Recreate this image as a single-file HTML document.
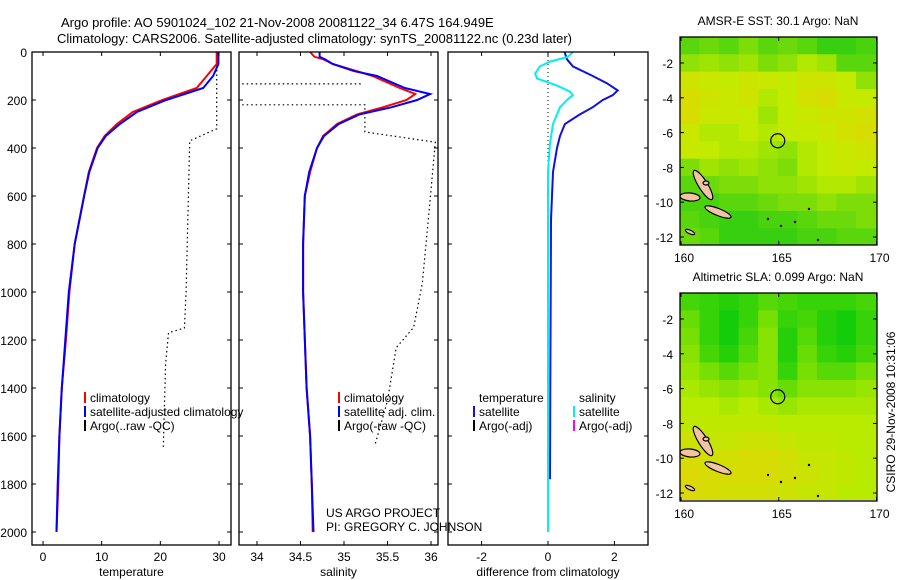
<!DOCTYPE html>
<html><head><meta charset="utf-8">
<style>
html,body{margin:0;padding:0;background:#fff;}
svg{display:block;font-family:"Liberation Sans",sans-serif;}
text{fill:#000;}
</style></head>
<body>
<svg id="fig" width="900" height="580" viewBox="0 0 900 580" xmlns="http://www.w3.org/2000/svg">
<defs>
<clipPath id="c1"><rect x="32" y="52" width="199" height="493"/></clipPath>
<clipPath id="c2"><rect x="239" y="52" width="199" height="493"/></clipPath>
<clipPath id="c3"><rect x="448" y="52" width="200" height="493"/></clipPath>
<clipPath id="cm1"><rect x="680" y="37" width="197" height="208"/></clipPath>
<clipPath id="cm2"><rect x="680" y="293" width="197" height="207"/></clipPath>
</defs>
<text x="61" y="27" font-size="13">Argo profile: AO 5901024_102 21-Nov-2008 20081122_34 6.47S 164.949E</text>
<text x="57" y="43" font-size="13">Climatology: CARS2006. Satellite-adjusted climatology: synTS_20081122.nc (0.23d later)</text>
<text x="778" y="25" font-size="12" text-anchor="middle">AMSR-E SST: 30.1 Argo: NaN</text>
<text x="778" y="281" font-size="12" text-anchor="middle">Altimetric SLA: 0.099 Argo: NaN</text>
<text transform="translate(895,412) rotate(-90)" font-size="12" text-anchor="middle">CSIRO 29-Nov-2008 10:31:06</text>
<text x="326" y="517" font-size="12">US ARGO PROJECT</text>
<text x="326" y="531" font-size="12">PI: GREGORY C. JOHNSON</text>
<g id="g1" clip-path="url(#c1)"></g>
<g id="g2" clip-path="url(#c2)"></g>
<g id="g3" clip-path="url(#c3)"></g>
<g id="gm1" clip-path="url(#cm1)"></g>
<g id="gm2" clip-path="url(#cm2)"></g>
<g id="axes"></g>
</svg>
<script>
// ---- profile data (depth in dbar) ----
const tDepth = [0,50,100,150,200,250,300,350,400,500,600,800,1000,1200,1400,1600,1800,2000];
const tClim  = [29.6,29.6,27.9,26.2,20.3,15.3,12.6,10.5,9.2,7.8,7.0,5.4,4.5,3.9,3.2,2.8,2.6,2.3];
const tSat   = [29.9,29.9,29.0,27.3,21.0,16.0,13.1,10.7,9.3,7.9,7.0,5.4,4.4,3.8,3.2,2.8,2.5,2.3];
const tArgoDepth = [0,320,370,1000,1150,1170,1300,1650];
const tArgo      = [29.6,29.6,25.0,24.4,24.1,21.4,20.9,20.5];
const sDepth = [0,20,30,50,80,100,150,175,200,230,260,300,350,400,500,600,800,1000,1400,1600,1800,2000];
const sClim  = [34.61,34.66,34.76,34.87,35.15,35.33,35.64,35.82,35.72,35.45,35.15,34.92,34.76,34.69,34.61,34.55,34.53,34.53,34.57,34.61,34.63,34.64];
const sSat   = [34.72,34.72,34.78,34.87,35.12,35.38,35.70,35.99,35.84,35.55,35.18,34.94,34.77,34.69,34.60,34.55,34.53,34.53,34.57,34.61,34.63,34.65];
const sArgoA = [[33.83,133],[35.21,133]];
const sArgoB = [[33.83,220],[35.24,220],[35.24,333],[36.05,376],[35.99,618],[35.9,965],[35.8,1148],[35.6,1232],[35.5,1453],[35.36,1633]];
const dDepthT = [0,30,60,100,130,160,180,200,230,260,300,350,400,500,700,1000,1400,1780];
const dTemp   = [0.5,0.57,0.75,1.35,1.77,2.1,1.95,1.65,1.35,0.96,0.51,0.36,0.27,0.15,0.09,0.08,0.07,0.06];
const dDepthS = [0,20,40,60,90,110,140,165,180,200,230,300,380,500,1000,2000];
const dSal    = [0.75,0.6,0.06,-0.24,-0.39,-0.33,0.27,0.66,0.75,0.57,0.36,0.15,0.06,0.0,0.0,0.0];
const depthTicks = [0,200,400,600,800,1000,1200,1400,1600,1800,2000];
const tTicks = [0,10,20,30];
const sTicks = [34,34.5,35,35.5,36];
const dTicks = [-2,0,2];
// ---- map data (0=green .. 1=orange) rows: lat bands from -0.5 southward, cols: 1deg lon from 160 ----
const sstGrid = [
[0.2,0.25,0.2,0.3,0.2,0.25,0.2,0.1,0.1,0.15],
[0.35,0.4,0.35,0.4,0.3,0.35,0.45,0.4,0.2,0.2],
[0.6,0.55,0.5,0.6,0.55,0.5,0.6,0.6,0.5,0.35],
[0.7,0.6,0.55,0.6,0.45,0.5,0.65,0.7,0.55,0.5],
[0.7,0.55,0.55,0.5,0.4,0.5,0.55,0.6,0.6,0.65],
[0.55,0.45,0.45,0.5,0.45,0.5,0.5,0.55,0.65,0.7],
[0.55,0.5,0.45,0.45,0.4,0.35,0.45,0.5,0.55,0.6],
[0.3,0.4,0.35,0.4,0.35,0.3,0.45,0.5,0.55,0.5],
[0.2,0.25,0.3,0.3,0.35,0.35,0.4,0.45,0.45,0.4],
[0.15,0.15,0.2,0.2,0.25,0.3,0.3,0.35,0.3,0.3],
[0.2,0.15,0.1,0.1,0.15,0.15,0.2,0.25,0.25,0.3],
[0.25,0.2,0.1,0.1,0.1,0.1,0.15,0.15,0.2,0.2]];
const slaGrid = [
[0.15,0.1,0.05,0.1,0.2,0.15,0.1,0.1,0.1,0.15],
[0.25,0.1,0.0,0.1,0.3,0.1,0.15,0.05,0.0,0.1],
[0.3,0.1,0.0,0.15,0.35,0.05,0.2,0.05,0.0,0.1],
[0.35,0.15,0.05,0.2,0.35,0.05,0.25,0.1,0.05,0.15],
[0.4,0.3,0.2,0.3,0.35,0.1,0.3,0.2,0.2,0.3],
[0.45,0.4,0.35,0.4,0.35,0.25,0.35,0.35,0.35,0.4],
[0.5,0.5,0.45,0.5,0.45,0.4,0.45,0.45,0.45,0.45],
[0.55,0.55,0.55,0.55,0.55,0.5,0.5,0.5,0.5,0.5],
[0.65,0.6,0.6,0.65,0.65,0.6,0.55,0.55,0.5,0.5],
[0.75,0.7,0.7,0.75,0.75,0.7,0.6,0.6,0.55,0.5],
[0.8,0.75,0.75,0.75,0.75,0.7,0.65,0.6,0.55,0.5],
[0.8,0.75,0.7,0.7,0.7,0.65,0.6,0.6,0.5,0.5]];
const lonTicks = [160,165,170];
const latTicks = [-2,-4,-6,-8,-10,-12];

const NS='http://www.w3.org/2000/svg';
function mk(tag, attrs, parent){const e=document.createElementNS(NS,tag);for(const k in attrs)e.setAttribute(k,attrs[k]);parent.appendChild(e);return e;}
const yD = d => 52 + d*(480/2000);
const xT = v => 43 + v*(176/30);
const xS = v => 257 + (v-34)*87;
const xDf = v => 548 + v*33.2;
function line(parent, xs, ds, fx, color, w, dash, name){
  const pts = xs.map((v,i)=>fx(v).toFixed(1)+','+yD(ds[i]).toFixed(1)).join(' ');
  const e = mk('polyline',{points:pts,fill:'none',stroke:color,'stroke-width':w},parent);
  if(dash) e.setAttribute('stroke-dasharray',dash);
  
  
  return e;
}
const g1=document.getElementById('g1'),g2=document.getElementById('g2'),g3=document.getElementById('g3');
line(g1,tArgo,tArgoDepth,xT,'#000',1.2,'1.5,3','temp-argo-line');
line(g1,tClim,tDepth,xT,'#f00',2,null,'temp-climatology-line');
line(g1,tSat,tDepth,xT,'#00f',2,null,'temp-satellite-line');
line(g2,sArgoA.map(p=>p[0]),sArgoA.map(p=>p[1]),xS,'#000',1.2,'1.5,3','sal-argo-line-a');
line(g2,sArgoB.map(p=>p[0]),sArgoB.map(p=>p[1]),xS,'#000',1.2,'1.5,3','sal-argo-line-b');
line(g2,sClim,sDepth,xS,'#f00',2,null,'sal-climatology-line');
line(g2,sSat,sDepth,xS,'#00f',2,null,'sal-satellite-line');
line(g3,[0,0],[0,2000],xDf,'#000',1,'1,3','zero-line');
line(g3,dTemp,dDepthT,xDf,'#1010e0',2,null,'temp-diff-line');
line(g3,dSal,dDepthS,xDf,'#00f0f0',2,null,'sal-diff-line');

const ax=document.getElementById('axes');
function panel(x0,x1,ticks,fx,label,name,ylabels){
  const r=mk('rect',{x:x0,y:52,width:x1-x0,height:493,fill:'none',stroke:'#000','stroke-width':1.3},ax);
  
  
  depthTicks.forEach(d=>{
    const y=yD(d);
    mk('line',{x1:x0,x2:x0+4,y1:y,y2:y,stroke:'#000'},ax);
    mk('line',{x1:x1-4,x2:x1,y1:y,y2:y,stroke:'#000'},ax);
    if(ylabels){const t=mk('text',{x:x0-5,y:y+5,'font-size':12,'text-anchor':'end'},ax);t.textContent=d;
      
      }
  });
  ticks.forEach(v=>{
    const x=fx(v);
    mk('line',{x1:x,x2:x,y1:52,y2:56,stroke:'#000'},ax);
    mk('line',{x1:x,x2:x,y1:541,y2:545,stroke:'#000'},ax);
    const t=mk('text',{x:x,y:561,'font-size':12,'text-anchor':'middle'},ax);t.textContent=v;
    
    
  });
  const l=mk('text',{x:(x0+x1)/2,y:576,'font-size':12,'text-anchor':'middle'},ax);l.textContent=label;
  
  
}
panel(32,231,tTicks,xT,'temperature','temperature-panel',true);
panel(239,438,sTicks,xS,'salinity','salinity-panel',false);
panel(448,648,dTicks,xDf,'difference from climatology','difference-panel',false);

function legend(x,y,items,name){
  items.forEach((it,i)=>{
    const yy=y+i*14;
    if(it[0]){const m=mk('rect',{x:x,y:yy-10,width:2,height:11,fill:it[0]},ax);
      
      }
    const t=mk('text',{x:x+6,y:yy,'font-size':12},ax);t.textContent=it[1];
    
    
  });
}
legend(84,402,[['#f00','climatology'],['#00f','satellite-adjusted climatology'],['#000','Argo(..raw -QC)']],'temp-legend');
legend(338,402,[['#f00','climatology'],['#00f','satellite adj. clim.'],['#000','Argo(-raw -QC)']],'sal-legend');
legend(473,402,[[null,'temperature'],['#1010e0','satellite'],['#000','Argo(-adj)']],'diff-temp-legend');
legend(573,402,[[null,'salinity'],['#00f0f0','satellite'],['#f0f','Argo(-adj)']],'diff-sal-legend');

// ---- maps ----
const xLon = v => 681 + (v-160)*19.55;
function col(v, sla){
  const stops = sla ? [[0,[20,205,10]],[0.5,[185,235,0]],[1,[245,205,10]]] : [[0,[20,200,20]],[0.5,[195,235,0]],[1,[245,200,0]]];
  let a=stops[0],b=stops[1]; if(v>0.5){a=stops[1];b=stops[2];}
  const f=(v-a[0])/(b[0]-a[0]);
  return 'rgb('+a[1].map((c,i)=>Math.round(c+(b[1][i]-c)*f)).join(',')+')';
}
function drawMap(gid, grid, y0lat, yTop, sla, name){
  const g=document.getElementById(gid);
  const yLat = v => yTop + (-2 - v)*17.4;
  grid.forEach((row,ri)=>row.forEach((v,ci)=>{
    const la=-0.5-ri, lo=160+ci;
    const x=xLon(lo)-1, y=yLat(la);
    const c=mk('rect',{x:x.toFixed(1),y:y.toFixed(1),width:20.6,height:18.4,fill:col(v,sla)},g);
    
    
  }));
  const ox=0, oy=yLat(-2)-63;
  const isl=[[703,185,17,4.5,58],[718,212,14,3.5,22],[690,197,10,4,5],[690,232,5,1.8,25],[706,183,3,2,0]];
  isl.forEach(s=>{
    const e=mk('ellipse',{cx:s[0]+ox,cy:s[1]+oy,rx:s[2],ry:s[3],fill:'#f2c4a4',stroke:'#000','stroke-width':1.2,transform:'rotate('+s[4]+','+(s[0]+ox)+','+(s[1]+oy)+')'},g);
    
    
  });
  [[768,219],[781,226],[818,240],[809,209],[795,222]].forEach(p=>{mk('circle',{cx:p[0],cy:p[1]+oy,r:1.2,fill:'#000'},g);});
  const m=mk('circle',{cx:xLon(164.949),cy:yLat(-6.47),r:7,fill:'none',stroke:'#000','stroke-width':1.2},ax);
  
  
  const fr=mk('rect',{x:680,y:yTop-26,width:197,height:208,fill:'none',stroke:'#000','stroke-width':1.3},ax);
  
  
  const bot=yTop-26+208;
  lonTicks.forEach(v=>{
    const x=xLon(v);
    mk('line',{x1:x,x2:x,y1:yTop-26,y2:yTop-22,stroke:'#000'},ax);
    mk('line',{x1:x,x2:x,y1:bot-4,y2:bot,stroke:'#000'},ax);
    const t=mk('text',{x:x+3,y:bot+17,'font-size':12,'text-anchor':'middle'},ax);t.textContent=v;
    
    
  });
  latTicks.forEach(v=>{
    const y=yLat(v);
    mk('line',{x1:680,x2:684,y1:y,y2:y,stroke:'#000'},ax);
    mk('line',{x1:873,x2:877,y1:y,y2:y,stroke:'#000'},ax);
    const t=mk('text',{x:673,y:y+5,'font-size':12,'text-anchor':'end'},ax);t.textContent=v;
    
    
  });
}
drawMap('gm1', sstGrid, -0.5, 63, false, 'sst-map');
drawMap('gm2', slaGrid, -0.5, 319, true, 'sla-map');
</script>
</body></html>
